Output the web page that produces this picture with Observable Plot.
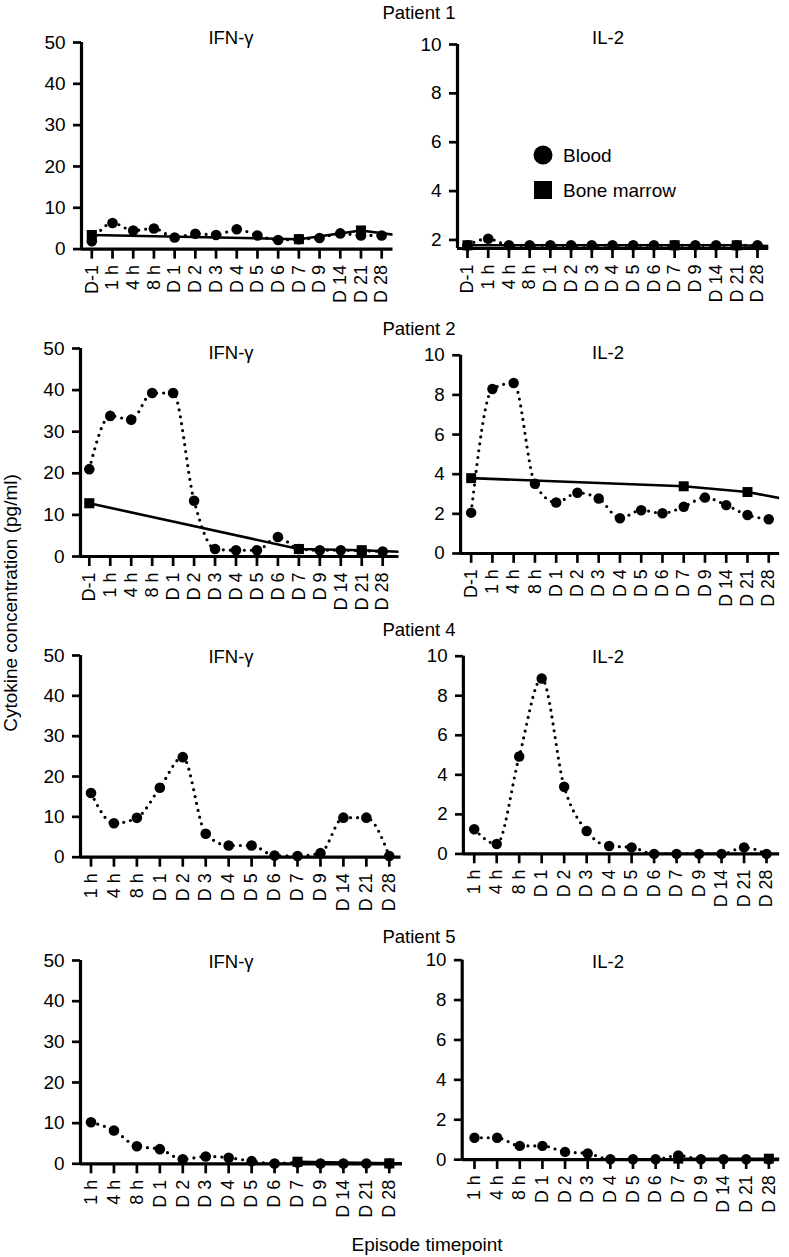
<!DOCTYPE html>
<html>
<head>
<meta charset="utf-8">
<script src="https://cdn.jsdelivr.net/npm/d3@7"></script>
<script src="https://cdn.jsdelivr.net/npm/@observablehq/plot@0.6"></script>
<style>
  html, body { margin: 0; padding: 0; background: #fff; }
  #root { position: relative; width: 789px; height: 1257px; overflow: hidden;
          font-family: "Liberation Sans", Arial, Helvetica, sans-serif; color: #000; }
  .lbl { position: absolute; white-space: nowrap; transform: translate(-50%, -50%); font-size: 18px; line-height: 1; }
  .panel { position: absolute; }
  .panel svg { overflow: visible; }
</style>
</head>
<body>
<div id="root"></div>
<script>
// ---------------- DATA ----------------
const timepointsWithBaseline = ["D-1","1 h","4 h","8 h","D 1","D 2","D 3","D 4","D 5","D 6","D 7","D 9","D 14","D 21","D 28"];
const timepointsNoBaseline   = ["1 h","4 h","8 h","D 1","D 2","D 3","D 4","D 5","D 6","D 7","D 9","D 14","D 21","D 28"];
// sample taken after D 28 (off the axis; only its connecting line shows)
const offAxisLate = "after D 28";

const ifnTicks = [0, 10, 20, 30, 40, 50];
const il2Ticks = [0, 2, 4, 6, 8, 10];
const il2TicksP1 = [2, 4, 6, 8, 10];

// Patient 1
const p1IfnBlood = [1.9, 6.3, 4.5, 5.0, 2.8, 3.7, 3.4, 4.8, 3.3, 2.2, 2.4, 2.7, 3.8, 3.3, 3.3];
const p1IfnMarrowTimes = ["D-1", "D 7", "D 21", offAxisLate];
const p1IfnMarrow = [3.4, 2.4, 4.5, 3.2];
const p1Il2Blood = [1.78, 2.05, 1.78, 1.78, 1.78, 1.78, 1.78, 1.78, 1.78, 1.78, 1.78, 1.78, 1.78, 1.78, 1.78];
const p1Il2MarrowTimes = ["D-1", "D 7", "D 21", offAxisLate];
const p1Il2Marrow = [1.78, 1.78, 1.78, 1.74];

// Patient 2
const p2IfnBlood = [21.0, 33.8, 32.9, 39.3, 39.3, 13.4, 1.8, 1.5, 1.5, 4.7, 1.8, 1.5, 1.5, 1.4, 1.2];
const p2IfnMarrowTimes = ["D-1", "D 7", "D 21", offAxisLate];
const p2IfnMarrow = [12.8, 1.8, 1.5, 1.1];
const p2Il2Blood = [2.06, 8.3, 8.6, 3.52, 2.57, 3.06, 2.77, 1.78, 2.18, 2.03, 2.36, 2.82, 2.44, 1.94, 1.73];
const p2Il2MarrowTimes = ["D-1", "D 7", "D 21", offAxisLate];
const p2Il2Marrow = [3.8, 3.39, 3.1, 2.7];

// Patient 4
const p4IfnBlood = [15.9, 8.4, 9.75, 17.2, 24.8, 5.8, 2.9, 2.9, 0.4, 0.3, 1.0, 9.8, 9.8, 0.3];
const p4Il2Blood = [1.25, 0.5, 4.93, 8.87, 3.4, 1.16, 0.4, 0.33, 0.0, 0.0, 0.0, 0.0, 0.33, 0.0];

// Patient 5
const p5IfnBlood = [10.2, 8.2, 4.3, 3.6, 1.1, 1.8, 1.5, 0.65, 0.05, 0.3, 0.05, 0.05, 0.05, 0.05];
const p5IfnMarrowTimes = ["D 7", "D 28", offAxisLate];
const p5IfnMarrow = [0.5, 0.1, 0.1];
const p5Il2Blood = [1.1, 1.1, 0.69, 0.69, 0.39, 0.31, 0.02, 0.02, 0.02, 0.21, 0.02, 0.02, 0.02, 0.02];
const p5Il2MarrowTimes = ["D 7", "D 28", offAxisLate];
const p5Il2Marrow = [0.05, 0.05, 0.05];

const patientTitles = ["Patient 1", "Patient 2", "Patient 4", "Patient 5"];
const cytokineTitles = ["IFN-γ", "IL-2"];
const legendLabels = ["Blood", "Bone marrow"];
const yAxisTitle = "Cytokine concentration (pg/ml)";
const xAxisTitle = "Episode timepoint";

// ---------------- PANEL DEFINITIONS ----------------
const panels = [
  {labels: timepointsWithBaseline, blood: p1IfnBlood, marrowT: p1IfnMarrowTimes, marrowV: p1IfnMarrow, yDomain: [0, 50], ticks: ifnTicks},
  {labels: timepointsWithBaseline, blood: p1Il2Blood, marrowT: p1Il2MarrowTimes, marrowV: p1Il2Marrow, yDomain: [1.65, 10], ticks: il2TicksP1},
  {labels: timepointsWithBaseline, blood: p2IfnBlood, marrowT: p2IfnMarrowTimes, marrowV: p2IfnMarrow, yDomain: [0, 50], ticks: ifnTicks},
  {labels: timepointsWithBaseline, blood: p2Il2Blood, marrowT: p2Il2MarrowTimes, marrowV: p2Il2Marrow, yDomain: [0, 10], ticks: il2Ticks},
  {labels: timepointsNoBaseline, blood: p4IfnBlood, marrowT: [], marrowV: [], yDomain: [0, 50], ticks: ifnTicks},
  {labels: timepointsNoBaseline, blood: p4Il2Blood, marrowT: [], marrowV: [], yDomain: [0, 10], ticks: il2Ticks},
  {labels: timepointsNoBaseline, blood: p5IfnBlood, marrowT: p5IfnMarrowTimes, marrowV: p5IfnMarrow, yDomain: [0, 50], ticks: ifnTicks},
  {labels: timepointsNoBaseline, blood: p5Il2Blood, marrowT: p5Il2MarrowTimes, marrowV: p5Il2Marrow, yDomain: [0, 10], ticks: il2Ticks}
];

// ---------------- LAYOUT (pixel positions) ----------------
// x0: y-axis position, x1: end of x-axis, first/last: first and last category tick, yTop/yBot: y of domain max/min
const layout = [
  {x0: 80.5, x1: 392, first: 90.8, last: 380.7, yTop: 41.7, yBot: 248.3},
  {x0: 456.7, x1: 768, first: 466.7, last: 756.7, yTop: 43.5, yBot: 247.5},
  {x0: 79.5, x1: 398, first: 88.3, last: 381.7, yTop: 347.7, yBot: 555.7},
  {x0: 461, x1: 784, first: 471.7, last: 773, yTop: 355, yBot: 555.7},
  {x0: 79.5, x1: 400, first: 90, last: 388.3, yTop: 655, yBot: 856.7},
  {x0: 464, x1: 785, first: 475, last: 771.7, yTop: 656, yBot: 856.7},
  {x0: 79.5, x1: 401.5, first: 90, last: 388.3, yTop: 960, yBot: 1163.3},
  {x0: 463, x1: 786, first: 475.5, last: 775, yTop: 960, yBot: 1163}
];
const patientTitlePos = [{x: 419, y: 13}, {x: 419, y: 329}, {x: 419, y: 630}, {x: 419, y: 937}];
const cytokineTitleY = [38, 353, 657, 962];
const cytokineTitleX = [231, 608];

const root = document.getElementById("root");
const FONT = '"Liberation Sans", Arial, Helvetica, sans-serif';

function addLabel(text, x, y, size, extra) {
  const d = document.createElement("div");
  d.className = "lbl";
  d.textContent = text;
  d.style.left = x + "px";
  d.style.top = y + "px";
  if (size) d.style.fontSize = size + "px";
  if (extra) d.style.transform = extra;
  root.appendChild(d);
  return d;
}

panels.forEach((cfg, k) => {
  const lay = layout[k];
  const n = cfg.labels.length;
  const step = (lay.last - lay.first) / (n - 1);
  const xd = [(lay.x0 - lay.first) / step, (lay.x1 - lay.first) / step];
  const ml = 75, mr = 10, mt = 20, mb = 75;
  const width = ml + (lay.x1 - lay.x0) + mr;
  const height = mt + (lay.yBot - lay.yTop) + mb;
  const blood = cfg.blood.map((v, i) => ({i, v}));
  const marrow = cfg.marrowT.map((t, j) => ({i: t === offAxisLate ? n : cfg.labels.indexOf(t), v: cfg.marrowV[j]}));
  const marrowVisible = marrow.filter(d => d.i < n);
  const y0 = cfg.yDomain[0], y1 = cfg.yDomain[1];

  const chart = Plot.plot({
    width, height,
    marginLeft: ml, marginRight: mr, marginTop: mt, marginBottom: mb,
    style: {fontFamily: FONT, fontSize: "18px", color: "#000", background: "transparent", overflow: "visible"},
    x: {type: "linear", domain: xd},
    y: {type: "linear", domain: cfg.yDomain},
    marks: [
      Plot.line(marrow, {x: "i", y: "v", curve: "linear", stroke: "#000", strokeWidth: 2.6, clip: true}),
      Plot.line(blood, {x: "i", y: "v", curve: "monotone-x", stroke: "#000", strokeWidth: 3.2,
                        strokeDasharray: "0 7", strokeLinecap: "round", clip: true}),
      Plot.axisY({ticks: cfg.ticks, tickSize: 8, tickPadding: 8, strokeWidth: 2.7, fontSize: 19, label: null, tickFormat: d3.format("d")}),
      Plot.axisX({ticks: d3.range(n), tickFormat: i => cfg.labels[i], tickSize: 10, tickPadding: 6,
                  strokeWidth: 2.7, tickRotate: -90, textAnchor: "end", fontSize: 18, label: null}),
      Plot.ruleX([xd[0]], {y1: y0, y2: y1, stroke: "#000", strokeWidth: 3.2}),
      Plot.ruleY([y0], {x1: xd[0], x2: xd[1], stroke: "#000", strokeWidth: 3.2}),
      Plot.dot(blood, {x: "i", y: "v", r: 5.3, fill: "#000", stroke: null}),
      Plot.dot(marrowVisible, {x: "i", y: "v", symbol: "square", r: 5.7, fill: "#000", stroke: null})
    ]
  });
  const wrap = document.createElement("div");
  wrap.className = "panel";
  wrap.style.left = (lay.x0 - ml) + "px";
  wrap.style.top = (lay.yTop - mt) + "px";
  wrap.appendChild(chart);
  root.appendChild(wrap);

  addLabel(cytokineTitles[k % 2], cytokineTitleX[k % 2], cytokineTitleY[Math.floor(k / 2)], 18.5);
});

patientTitles.forEach((t, i) => addLabel(t, patientTitlePos[i].x, patientTitlePos[i].y, 18.5));

addLabel(yAxisTitle, 10, 603, 19, "translate(-50%, -50%) rotate(-90deg)");
addLabel(xAxisTitle, 427, 1244, 19);

// Legend (inside Patient 1 IL-2 panel)
const legendItems = [{label: legendLabels[0], shape: "circle", y: 155}, {label: legendLabels[1], shape: "square", y: 190}];
const ns = "http://www.w3.org/2000/svg";
legendItems.forEach(item => {
  const svg = document.createElementNS(ns, "svg");
  svg.setAttribute("width", 22); svg.setAttribute("height", 22);
  svg.style.position = "absolute";
  svg.style.left = (543 - 11) + "px";
  svg.style.top = (item.y - 11) + "px";
  let s;
  if (item.shape === "circle") {
    s = document.createElementNS(ns, "circle");
    s.setAttribute("cx", 11); s.setAttribute("cy", 11); s.setAttribute("r", 9.5);
  } else {
    s = document.createElementNS(ns, "rect");
    s.setAttribute("x", 2); s.setAttribute("y", 2); s.setAttribute("width", 18); s.setAttribute("height", 18);
  }
  s.setAttribute("fill", "#000");
  svg.appendChild(s);
  root.appendChild(svg);
  const d = document.createElement("div");
  d.className = "lbl";
  d.textContent = item.label;
  d.style.left = "563px";
  d.style.top = item.y + "px";
  d.style.fontSize = "19px";
  d.style.transform = "translate(0, -50%)";
  root.appendChild(d);
});
</script>
</body>
</html>
